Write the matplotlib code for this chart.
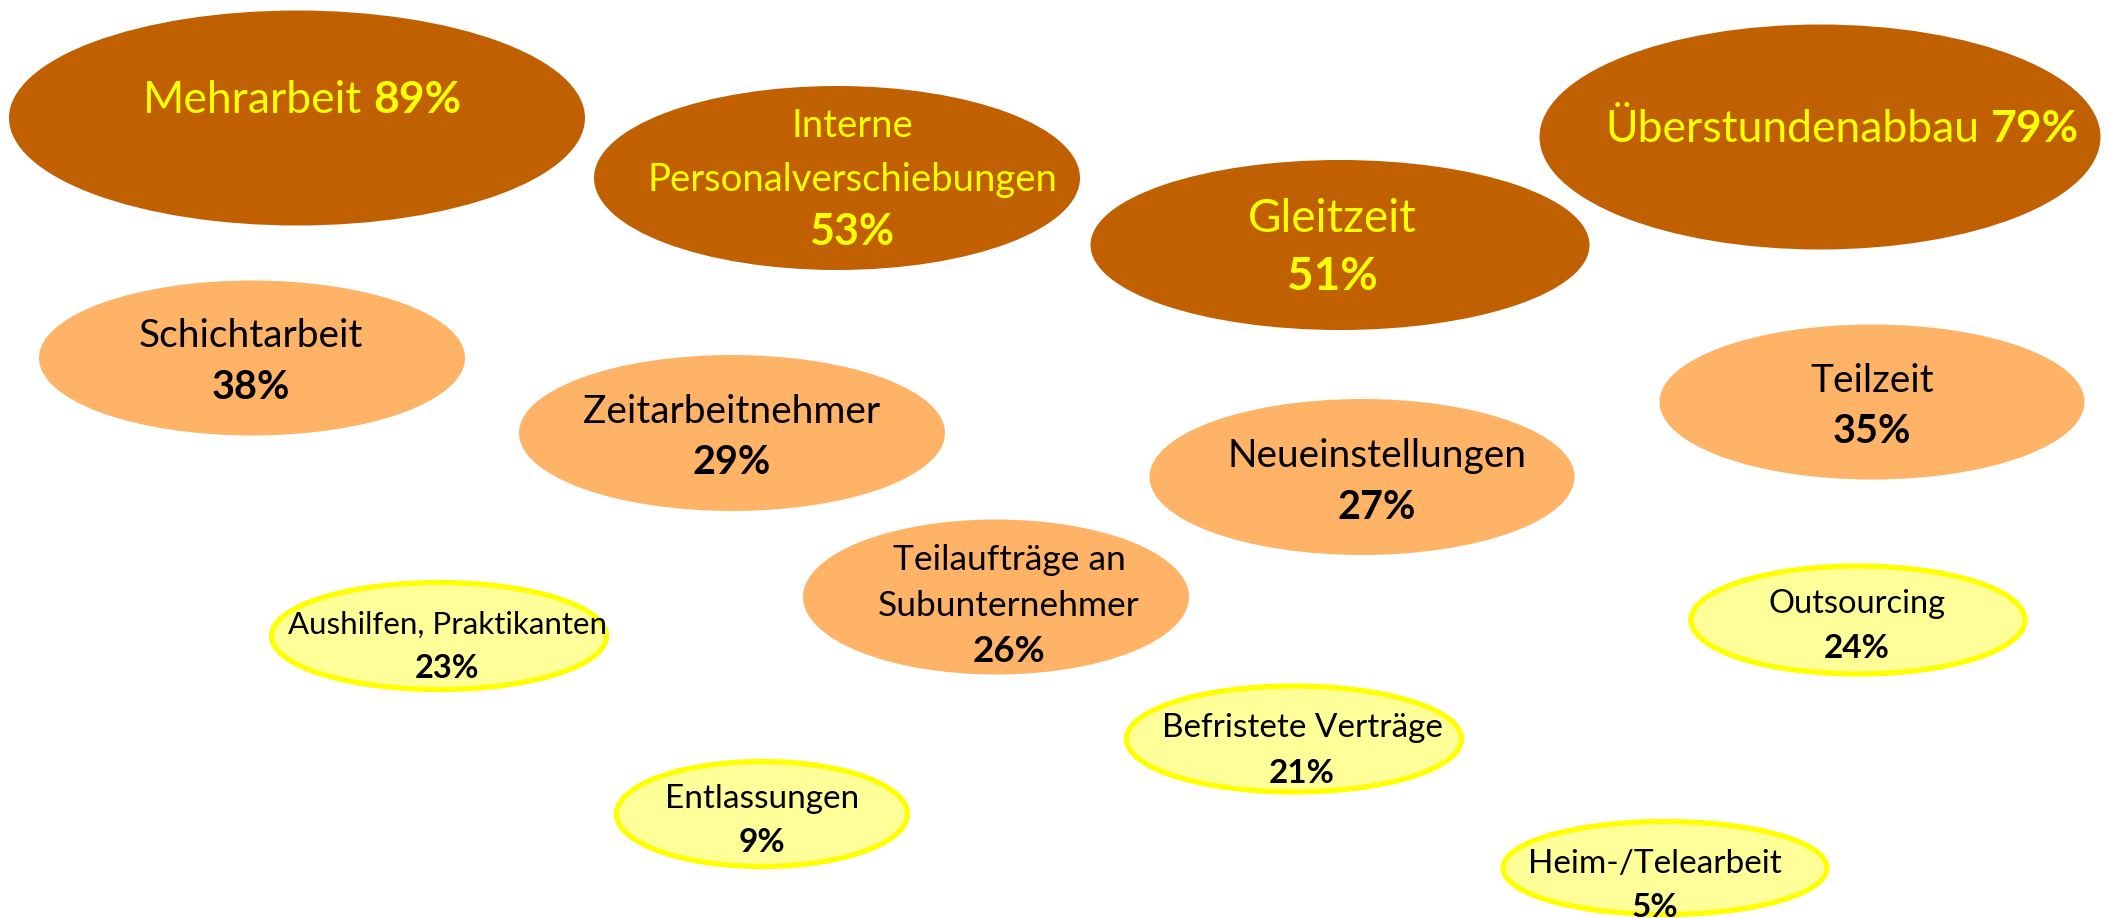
import matplotlib
matplotlib.use("Agg")
import matplotlib.pyplot as plt
from matplotlib.patches import Ellipse

# ---- data ----
labels = ["Mehrarbeit", "Interne\nPersonalverschiebungen", "Gleitzeit", "Überstundenabbau",
          "Schichtarbeit", "Zeitarbeitnehmer", "Neueinstellungen", "Teilzeit",
          "Teilaufträge an\nSubunternehmer", "Aushilfen, Praktikanten", "Outsourcing",
          "Befristete Verträge", "Entlassungen", "Heim-/Telearbeit"]
values = [89, 53, 51, 79, 38, 29, 27, 35, 26, 23, 24, 21, 9, 5]

# ---- layout (pixels) ----
ell_cx = [297, 837, 1340, 1820, 252, 732, 1362, 1872, 996, 439, 1858, 1294, 762, 1665]
ell_cy = [118, 178, 245, 137, 358, 433, 477, 402, 597, 636, 620, 739, 814, 868]
ell_w = [576, 486, 499, 561, 426, 426, 425, 425, 386, 335, 334, 335, 291, 324]
ell_h = [215, 184, 170, 225, 155, 156, 156, 155, 155, 107, 108, 106, 105, 93]
txt_x = [302, 852, 1332, 1842, 251, 732, 1377, 1872, 1009, 447, 1857, 1302, 762, 1655]
txt_base = [113, 137, 232, 142, 347, 423, 467, 392, 570, 634, 613, 737, 808, 873]
pitch = [0, 54, 58, 0, 52, 51, 52, 51, 46, 44, 45, 46, 44, 44]
fsize = [32, 27.5, 33, 32, 28, 28, 28, 28, 25.5, 22.5, 23.5, 24, 24, 24]
pct_size = [32, 31, 33, 32, 28.5, 28.5, 28.5, 28.5, 26.5, 23.5, 24, 24, 24, 24]
inline_idx = {0, 3}

DARK, MID, LIGHT, LIGHT_EDGE = "#C06000", "#FFB366", "#FFFF99", "#FFFF00"
FONT = "Lato"

W, H = 2107, 918
fig = plt.figure(figsize=(W / 100, H / 100), dpi=100)
ax = fig.add_axes([0, 0, 1, 1])
ax.set_xlim(0, W)
ax.set_ylim(H, 0)
ax.axis("off")

pending = []
for i, (lab, v) in enumerate(zip(labels, values)):
    if v >= 50:
        fc, ec, lw, tc = DARK, "none", 0, "#FFFF00"
    elif v >= 25:
        fc, ec, lw, tc = MID, "none", 0, "black"
    else:
        fc, ec, lw, tc = LIGHT, LIGHT_EDGE, 3.8, "black"
    ax.add_patch(Ellipse((ell_cx[i], ell_cy[i]), ell_w[i], ell_h[i],
                         facecolor=fc, edgecolor=ec, linewidth=lw, zorder=1))
    if i in inline_idx:
        t1 = ax.text(0, txt_base[i], lab, color=tc, fontsize=fsize[i], family=FONT,
                     ha="left", va="baseline", zorder=3)
        t2 = ax.text(0, txt_base[i], f"{v}%", color=tc, fontsize=pct_size[i], family=FONT,
                     fontweight="bold", ha="left", va="baseline", zorder=3)
        pending.append((i, t1, t2))
    else:
        lines = lab.split("\n")
        for k, ln in enumerate(lines):
            ax.text(txt_x[i], txt_base[i] + k * pitch[i], ln, color=tc, fontsize=fsize[i],
                    family=FONT, ha="center", va="baseline", zorder=3)
        ax.text(txt_x[i], txt_base[i] + len(lines) * pitch[i], f"{v}%", color=tc,
                fontsize=pct_size[i], family=FONT, fontweight="bold", ha="center",
                va="baseline", zorder=3, clip_on=False)

fig.canvas.draw()
r = fig.canvas.get_renderer()
for i, t1, t2 in pending:
    w1 = t1.get_window_extent(r).width
    w2 = t2.get_window_extent(r).width
    gap = fsize[i] * 100 / 72 * 0.25
    start = txt_x[i] - (w1 + gap + w2) / 2
    t1.set_x(start)
    t2.set_x(start + w1 + gap)

fig.savefig("out.png", dpi=100, facecolor="white")
